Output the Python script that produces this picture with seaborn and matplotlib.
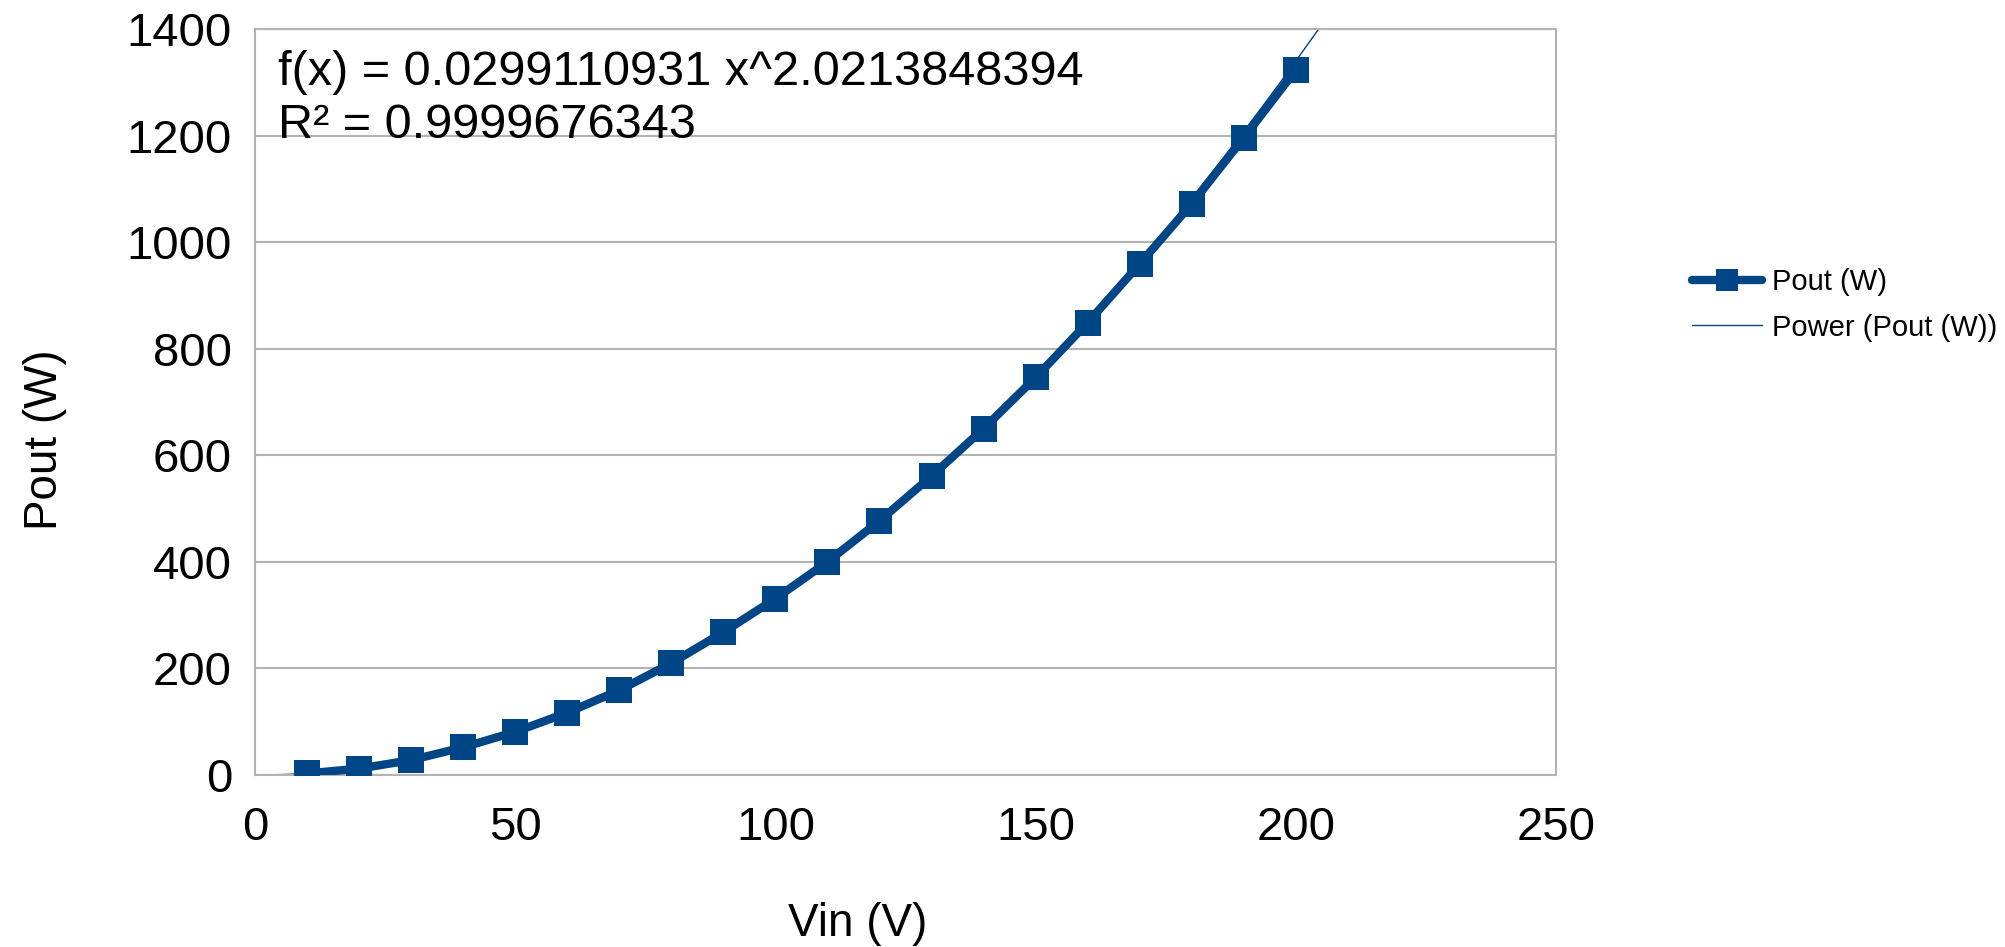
import seaborn as sns
import matplotlib.pyplot as plt
import numpy as np

# dati
vin = [10, 20, 30, 40, 50, 60, 70, 80, 90, 100, 110, 120, 130, 140, 150, 160, 170, 180, 190, 200]
pout = [3, 12, 28, 52, 81, 117, 159, 210, 268, 331, 400, 477, 561, 650, 746, 849, 959, 1072, 1196, 1323]

# coefficienti della linea di tendenza (potenza) come riportati nel grafico
coef_a = 0.0299110931
coef_b = 2.0213848394
r2 = 0.9999676343

blu = '#004586'
grigio = '#b3b3b3'

sns.set_style('white')
plt.rcParams['font.family'] = ['Liberation Sans', 'DejaVu Sans']
plt.rcParams['text.color'] = 'black'
plt.rcParams['axes.labelcolor'] = 'black'

fig = plt.figure(figsize=(20.06, 9.47), dpi=100)
ax = fig.add_axes([0.1271, 0.1816, 0.6486, 0.7878])

# linea di tendenza
x_fit = np.linspace(0, 210, 400)
y_fit = coef_a * x_fit ** coef_b
ax.plot(x_fit, y_fit, color=blu, lw=1.0, zorder=2, label='Power (Pout (W))')

sns.lineplot(x=vin, y=pout, ax=ax, color=blu, lw=6, marker='s', markersize=19,
             markeredgewidth=0, zorder=3, label='Pout (W)', legend=False)

ax.set_xlim(0, 250)
ax.set_ylim(0, 1400)
ax.set_xticks(range(0, 251, 50))
ax.set_yticks(range(0, 1401, 200))

ax.grid(axis='y', color=grigio, lw=1.5)
ax.grid(axis='x', visible=False)
for s in ax.spines.values():
	s.set_color(grigio)
	s.set_linewidth(1.5)
ax.tick_params(axis='both', colors=grigio, length=9.5, width=1.2, labelsize=34, labelcolor='black')
ax.tick_params(axis='y', pad=7)
ax.tick_params(axis='x', pad=13)

ax.set_xlabel('Vin (V)', fontsize=33, va='center')
ax.xaxis.set_label_coords(0.463, -0.2)
ax.set_ylabel('Pout (W)', fontsize=33, va='center')
ax.yaxis.set_label_coords(-0.161, 0.449)

ax.text(0.0177, 0.972, 'f(x) = %.10f x^%.10f\nR² = %.10f' % (coef_a, coef_b, r2),
	transform=ax.transAxes, fontsize=35, va='top', ha='left', linespacing=1.24, color='black')

handles, labels = ax.get_legend_handles_labels()
ordine = [labels.index('Pout (W)'), labels.index('Power (Pout (W))')]
leg = fig.legend([handles[i] for i in ordine], [labels[i] for i in ordine],
	loc='upper left', bbox_to_anchor=(0.8435, 0.717), frameon=False, fontsize=21,
	handlelength=2.4, handletextpad=0.34, labelspacing=0.6, borderpad=0, borderaxespad=0,
	markerscale=0.8)
for t in leg.get_texts():
	t.set_color('black')

fig.savefig('out.png', dpi=100)
